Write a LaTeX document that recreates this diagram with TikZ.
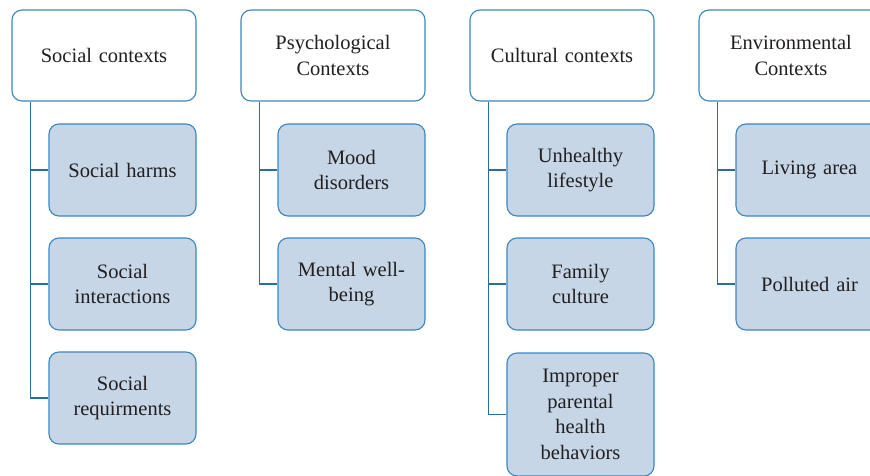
\documentclass[tikz,border=0pt]{standalone}
\usepackage{fontspec}
\setmainfont{Liberation Serif}
\definecolor{boxblue}{HTML}{3A87C0}
\definecolor{subfill}{HTML}{C6D6E7}
\definecolor{lineblue}{HTML}{2A6E9E}
\definecolor{txt}{HTML}{231F20}
\begin{document}
\begin{tikzpicture}[x=1pt,y=-1pt,
 head/.style={draw=boxblue, line width=1.1pt, rounded corners=10pt, fill=white,
   minimum width=184pt, minimum height=91pt, inner sep=0pt, align=center,
   text width=170pt, font=\fontsize{20.5}{25.5}\selectfont, text=txt},
 sub/.style={head, fill=subfill, minimum width=147pt, minimum height=92pt, text width=140pt},
 conn/.style={draw=lineblue, line width=1.5pt}]
\useasboundingbox (0,0) rectangle (870,476);
\clip (0,0) rectangle (870,476);

% column 1
\node[head] (h1) at (104,55.5) {Social contexts};
\node[sub] (c11) at (122.5,170) {Social harms};
\node[sub] (c12) at (122.5,284) {Social\\interactions};
\node[sub] (c13) at (122.5,398) {Social\\requirments};
% column 2
\node[head] (h2) at (333,55.5) {Psychological\\Contexts};
\node[sub] (c21) at (351.5,170) {Mood\\disorders};
\node[sub] (c22) at (351.5,284) {Mental well-\\being};
% column 3
\node[head] (h3) at (562,55.5) {Cultural contexts};
\node[sub] (c31) at (580.5,170) {Unhealthy\\lifestyle};
\node[sub] (c32) at (580.5,284) {Family\\culture};
\node[sub, minimum height=123pt] (c33) at (580.5,414.5) {Improper\\parental\\health\\behaviors};
% column 4
\node[head] (h4) at (791,55.5) {Environmental\\Contexts};
\node[sub] (c41) at (809.5,170) {Living area};
\node[sub] (c42) at (809.5,284) {Polluted air};

% connectors
\draw[conn] ([xshift=19pt]h1.south west) |- (c13.west);
\draw[conn] ([xshift=19pt]h1.south west) |- (c12.west);
\draw[conn] ([xshift=19pt]h1.south west) |- (c11.west);
\draw[conn] ([xshift=19pt]h2.south west) |- (c22.west);
\draw[conn] ([xshift=19pt]h2.south west) |- (c21.west);
\draw[conn] ([xshift=19pt]h3.south west) |- (c33.west);
\draw[conn] ([xshift=19pt]h3.south west) |- (c32.west);
\draw[conn] ([xshift=19pt]h3.south west) |- (c31.west);
\draw[conn] ([xshift=19pt]h4.south west) |- (c42.west);
\draw[conn] ([xshift=19pt]h4.south west) |- (c41.west);
\end{tikzpicture}
\end{document}
